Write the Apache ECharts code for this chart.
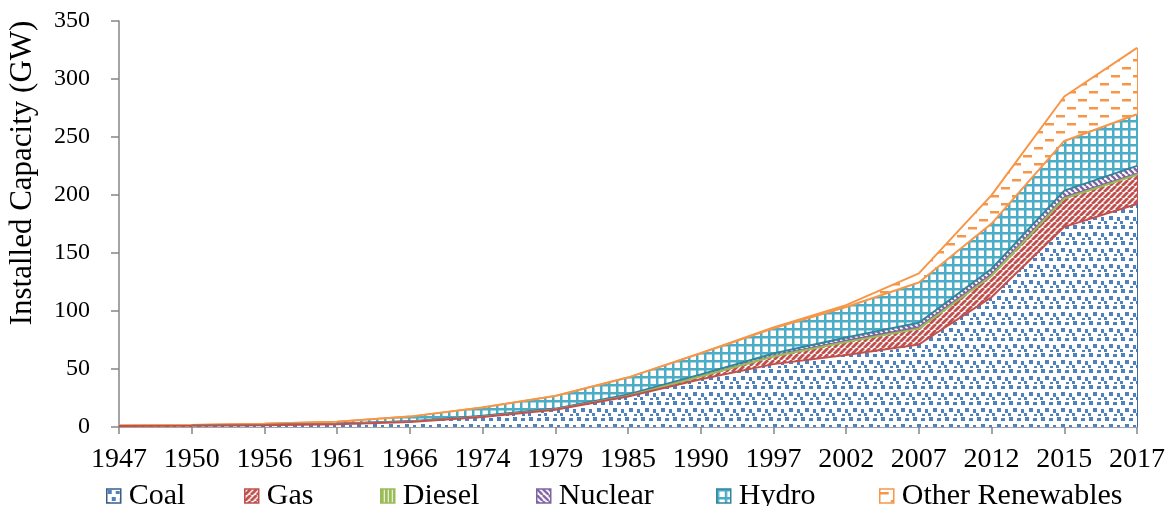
<!DOCTYPE html>
<html>
<head>
<meta charset="utf-8">
<script src="https://cdn.jsdelivr.net/npm/echarts@6/dist/echarts.min.js"></script>
<style>
  html, body { margin: 0; padding: 0; background: #ffffff; }
  #chart { width: 1175px; height: 506px; }
</style>
</head>
<body>
<div id="chart"></div>
<script>
// Installed capacity by source (GW), plan-period years
const years = ['1947', '1950', '1956', '1961', '1966', '1974', '1979', '1985', '1990', '1997', '2002', '2007', '2012', '2015', '2017'];
const coal    = [0.76, 1.0, 1.6, 2.4, 4.4, 8.7, 14.9, 26.3, 41.2, 54.2, 62.1, 71.1, 112.0, 172.5, 192.2];
const gas     = [0, 0, 0, 0, 0.1, 0.2, 0.2, 0.5, 2.3, 6.6, 11.2, 13.7, 18.4, 24.5, 25.3];
const diesel  = [0.1, 0.15, 0.2, 0.3, 0.35, 0.25, 0.15, 0.2, 0.15, 0.3, 1.1, 1.2, 1.2, 1.0, 0.8];
const nuclear = [0, 0, 0, 0, 0, 0.6, 0.6, 1.1, 1.6, 2.2, 2.7, 3.9, 4.8, 5.8, 6.8];
const hydro   = [0.5, 0.55, 1.05, 1.9, 4.1, 7.0, 10.8, 14.5, 18.3, 21.7, 26.3, 34.7, 39.0, 42.8, 44.5];
const otherRenewables = [0, 0, 0, 0, 0, 0, 0, 0, 0.02, 0.9, 1.6, 7.8, 24.5, 38.3, 57.3];

const yMin = 0, yMax = 350, yStep = 50;

// Hatch fills drawn on small repeating canvas tiles
function tile(w, h, bg, draw) {
  const c = document.createElement('canvas');
  c.width = w; c.height = h;
  const g = c.getContext('2d');
  g.fillStyle = bg;
  g.fillRect(0, 0, w, h);
  draw(g, w, h);
  return { image: c, repeat: 'repeat' };
}
function diag(g, w, h, color, width, up) {
  g.strokeStyle = color; g.lineWidth = width;
  for (let o = -w; o <= w; o += w) {
    g.beginPath();
    if (up) { g.moveTo(o, h); g.lineTo(o + w, 0); }
    else { g.moveTo(o, 0); g.lineTo(o + w, h); }
    g.stroke();
  }
}

const C = {
  coal: '#4F81BD', coalEdge: '#3C6AA5', gas: '#C0504D', diesel: '#9BBB59',
  nuclear: '#8064A2', hydro: '#4BACC6', hydroEdge: '#31859C', other: '#F79646'
};

const coalFill = tile(16, 16, '#ffffff', g => {
  g.fillStyle = C.coal;
  [[1, 1, 4, 4], [9, 2, 4, 3], [5, 8, 4, 4], [13, 9, 3, 4], [0, 13, 3, 3], [10, 14, 3, 2]]
    .forEach(r => g.fillRect(r[0], r[1], r[2], r[3]));
});
const gasFill = tile(6, 6, '#ffffff', (g, w, h) => diag(g, w, h, C.gas, 2.8, true));
const dieselFill = tile(4, 4, C.diesel, g => { g.fillStyle = '#ffffff'; g.fillRect(3, 0, 1, 4); });
const nuclearFill = tile(6, 6, '#ffffff', (g, w, h) => diag(g, w, h, C.nuclear, 2.4, false));
const hydroFill = tile(8, 8, '#ffffff', g => {
  g.fillStyle = C.hydro;
  g.fillRect(0, 0, 8, 2.5);
  g.fillRect(0, 0, 2.5, 8);
});
const otherFill = tile(22, 16, '#ffffff', g => {
  g.fillStyle = C.other;
  g.fillRect(0, 3, 9, 2.5);
  g.fillRect(11, 11, 9, 2.5);
});

// Each series' top edge carries the outline colour of the layer stacked above it
const layers = [
  { name: 'Coal', data: coal, fill: coalFill, base: C.coal, edge: C.gas, side: C.coalEdge, icon: '#385D8A' },
  { name: 'Gas', data: gas, fill: gasFill, base: C.gas, edge: C.diesel, side: C.gas, icon: C.gas },
  { name: 'Diesel', data: diesel, fill: dieselFill, base: C.diesel, edge: C.nuclear, side: C.diesel, icon: C.diesel },
  { name: 'Nuclear', data: nuclear, fill: nuclearFill, base: C.nuclear, edge: C.hydroEdge, side: C.nuclear, icon: C.nuclear },
  { name: 'Hydro', data: hydro, fill: hydroFill, base: C.hydro, edge: C.other, side: C.hydro, icon: C.hydroEdge },
  { name: 'Other Renewables', data: otherRenewables, fill: otherFill, base: C.other, edge: C.other, side: C.other, icon: C.other }
];
const legendLeft = [101, 239, 375, 531, 711, 874];

const FONT = 'Liberation Serif';
const last = years.length - 1;

let below = 0;
const series = layers.map((l, i) => {
  const lo = below, hi = below + l.data[last];
  below = hi;
  return {
    name: l.name,
    type: 'line',
    stack: 'capacity',
    data: l.data,
    smooth: false,
    showSymbol: false,
    symbol: 'none',
    z: 10 - i,
    itemStyle: { color: l.base },
    lineStyle: { color: l.edge, width: 2 },
    areaStyle: { color: l.fill, opacity: 1 },
    emphasis: { disabled: true },
    silent: true,
    // closing edge of each band at the final year
    markLine: {
      silent: true,
      symbol: ['none', 'none'],
      label: { show: false },
      lineStyle: { color: l.side, width: 2, type: 'solid' },
      data: [[{ coord: [years[last], lo] }, { coord: [years[last], hi] }]]
    }
  };
});

const legends = layers.map((l, i) => ({
  left: legendLeft[i],
  top: 476,
  orient: 'horizontal',
  icon: 'rect',
  itemWidth: 14,
  itemHeight: 14,
  itemGap: 0,
  selectedMode: false,
  textStyle: { fontFamily: FONT, fontSize: 30, color: '#000000', padding: [0, 0, 0, 3] },
  data: [{ name: l.name, itemStyle: { color: l.fill, borderColor: l.icon, borderWidth: 1.5 } }]
}));

const chart = echarts.init(document.getElementById('chart'), null, { renderer: 'canvas' });
chart.setOption({
  animation: false,
  backgroundColor: '#ffffff',
  grid: { left: 119, right: 38, top: 21, bottom: 79, outerBoundsMode: 'none' },
  legend: legends,
  xAxis: {
    type: 'category',
    data: years,
    boundaryGap: false,
    axisLine: { show: true, lineStyle: { color: '#868686', width: 1.5 } },
    axisTick: { show: true, length: 7, lineStyle: { color: '#868686', width: 1.5 } },
    axisLabel: { margin: 19, fontFamily: FONT, fontSize: 28, color: '#000000', interval: 0 },
    splitLine: { show: false }
  },
  yAxis: {
    type: 'value',
    min: yMin,
    max: yMax,
    interval: yStep,
    name: 'Installed Capacity (GW)',
    nameLocation: 'middle',
    nameGap: 81,
    nameTextStyle: { fontFamily: FONT, fontSize: 31, color: '#000000', padding: [0, 0, 0, 102] },
    axisLine: { show: true, lineStyle: { color: '#868686', width: 1.5 } },
    axisTick: { show: true, length: 8, lineStyle: { color: '#868686', width: 1.5 } },
    axisLabel: { margin: 29, fontFamily: FONT, fontSize: 24, color: '#000000' },
    splitLine: { show: false }
  },
  series: series
});
</script>
</body>
</html>
